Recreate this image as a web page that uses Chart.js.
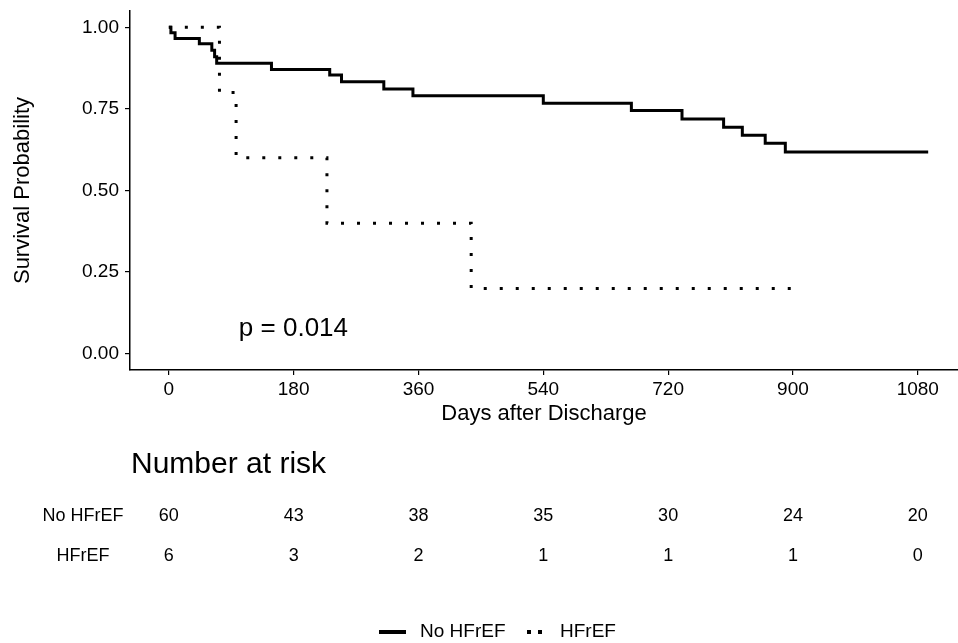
<!DOCTYPE html>
<html>
<head>
<meta charset="utf-8">
<script src="https://cdn.jsdelivr.net/npm/chart.js@4"></script>
<style>
  html, body { margin: 0; padding: 0; background: #fff; }
  #wrap { width: 958px; height: 643px; }
</style>
</head>
<body>
<div id="wrap"><canvas id="km" width="958" height="643"></canvas></div>
<script>
// data
const groups = ["No HFrEF", "HFrEF"];
const noHfrefDays = [0, 3, 9, 44, 62, 66, 69, 148, 232, 249, 310, 352, 540, 667, 740, 800, 827, 860, 889, 1095];
const noHfrefSurv = [1, 0.983, 0.966, 0.95, 0.93, 0.91, 0.89, 0.871, 0.854, 0.833, 0.811, 0.79, 0.767, 0.745, 0.719, 0.694, 0.669, 0.645, 0.618, 0.618];
const hfrefDays = [0, 73, 97, 228, 436, 914];
const hfrefSurv = [1, 0.8, 0.6, 0.4, 0.2, 0.2];

const xTicks = [0, 180, 360, 540, 720, 900, 1080];
const yTicks = [0, 0.25, 0.5, 0.75, 1];

// number at risk at each x tick
const riskNoHfref = [60, 43, 38, 35, 30, 24, 20];
const riskHfref = [6, 3, 2, 1, 1, 1, 0];

const pValueText = "p = 0.014";
const FONT = "'Liberation Sans', Arial, sans-serif";

function toPoints(days, surv) {
  return days.map((d, i) => ({ x: d, y: surv[i] }));
}

// p-value, risk table and legend
const extras = {
  id: "extras",
  afterDraw(chart) {
    const ctx = chart.ctx;
    const xs = chart.scales.x, ys = chart.scales.y;
    ctx.save();
    ctx.fillStyle = "#000";

    // p value
    ctx.font = "26px " + FONT;
    ctx.textAlign = "left";
    ctx.textBaseline = "middle";
    ctx.fillText(pValueText, xs.getPixelForValue(101), ys.getPixelForValue(0.075));

    // number at risk
    ctx.font = "30px " + FONT;
    ctx.textBaseline = "alphabetic";
    ctx.fillText("Number at risk", 131, 473);

    ctx.font = "18px " + FONT;
    ctx.textAlign = "center";
    ctx.textBaseline = "middle";
    const rows = [[groups[0], riskNoHfref, 516], [groups[1], riskHfref, 556]];
    rows.forEach(([name, vals, y]) => {
      ctx.fillText(name, 83, y);
      vals.forEach((v, i) => ctx.fillText(String(v), xs.getPixelForValue(xTicks[i]), y));
    });

    // legend
    const ly = 632;
    ctx.strokeStyle = "#000";
    ctx.lineWidth = 4;
    ctx.beginPath();
    ctx.moveTo(379, ly); ctx.lineTo(406, ly);
    ctx.stroke();
    ctx.setLineDash([4, 7]);
    ctx.beginPath();
    ctx.moveTo(527, ly); ctx.lineTo(544, ly);
    ctx.stroke();
    ctx.setLineDash([]);
    ctx.textAlign = "left";
    ctx.font = "19px " + FONT;
    ctx.fillText(groups[0], 420, ly);
    ctx.fillText(groups[1], 560, ly);
    ctx.restore();
  }
};

new Chart(document.getElementById("km"), {
  type: "line",
  data: {
    datasets: [
      {
        label: groups[0],
        data: toPoints(noHfrefDays, noHfrefSurv),
        borderColor: "#000",
        borderWidth: 3,
        stepped: true,
        pointRadius: 0,
        fill: false
      },
      {
        label: groups[1],
        data: toPoints(hfrefDays, hfrefSurv),
        borderColor: "#000",
        borderWidth: 3,
        borderDash: [3, 13],
        borderCapStyle: "butt",
        stepped: true,
        pointRadius: 0,
        fill: false
      }
    ]
  },
  options: {
    responsive: false,
    devicePixelRatio: 1,
    animation: false,
    layout: { padding: { top: 11, bottom: 213, left: 0, right: 0 } },
    plugins: { legend: { display: false }, tooltip: { enabled: false } },
    scales: {
      x: {
        type: "linear",
        min: -56,
        max: 1138,
        afterBuildTicks: s => { s.ticks = xTicks.map(v => ({ value: v })); },
        afterFit: s => { s.height = 60; s.paddingLeft = 0; s.paddingRight = 0; },
        grid: { drawOnChartArea: false, color: "#000", tickLength: 5, lineWidth: 1.2 },
        border: { color: "#000", width: 1.5 },
        ticks: {
          color: "#000", font: { family: FONT, size: 19 }, padding: 3, maxRotation: 0,
          callback: v => String(v)
        },
        title: {
          display: true, text: "Days after Discharge", color: "#000",
          font: { family: FONT, size: 22 }, padding: { top: 0, bottom: 3 }
        }
      },
      y: {
        min: -0.05,
        max: 1.05,
        afterBuildTicks: s => { s.ticks = yTicks.map(v => ({ value: v })); },
        afterFit: s => { s.width = 130; s.paddingTop = 0; s.paddingBottom = 0; },
        grid: { drawOnChartArea: false, color: "#000", tickLength: 5, lineWidth: 1.2 },
        border: { color: "#000", width: 1.5 },
        ticks: {
          color: "#000", font: { family: FONT, size: 19 }, padding: 6,
          callback: v => Number(v).toFixed(2)
        },
        title: {
          display: true, text: "Survival Probability", color: "#000",
          font: { family: FONT, size: 22 }, padding: { top: 10, bottom: 0 }
        }
      }
    }
  },
  plugins: [extras]
});
</script>
</body>
</html>
